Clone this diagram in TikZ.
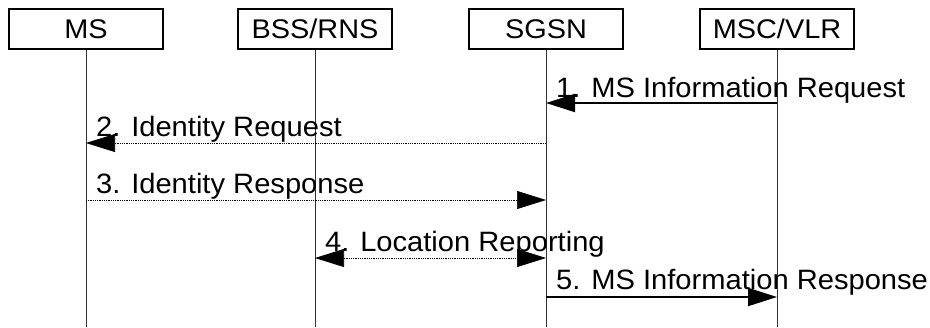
\documentclass[tikz,border=0pt]{standalone}
\usepackage{fontspec}
\usepackage{graphicx}
\setmainfont{Liberation Sans}
\usetikzlibrary{arrows.meta}
\tikzset{
  entity/.style={draw=black, line width=1.4pt, minimum width=154pt, minimum height=40pt, inner sep=0pt, font=\fontsize{27}{31}\selectfont},
  lifeline/.style={draw=black!80, line width=0.9pt},
  msgsolid/.style={draw=black, line width=2pt, -{Triangle[length=29pt,width=18pt]}},
  msgdot/.style={draw=black, line width=0.7pt, dash pattern=on 1pt off 0.8pt, -{Triangle[length=29pt,width=18pt]}},
  msglabel/.style={anchor=base west, inner sep=0pt, font=\fontsize{28}{32}\selectfont}
}
\newcommand{\wlab}[1]{\scalebox{1.04}[1]{#1}}
\newcommand{\wbox}[1]{\scalebox{1.07}[1]{#1}}
\begin{document}
\begin{tikzpicture}[x=1pt, y=-1pt]
\useasboundingbox (0,0) rectangle (930,327);
% entities
\node[entity] (ms) at (86,29) {\wbox{MS}};
\node[entity] (bss) at (315,29) {\wbox{BSS/RNS}};
\node[entity] (sgsn) at (546,29) {\wbox{SGSN}};
\node[entity] (msc) at (777,29) {\wbox{MSC/VLR}};
% lifeline ends
\coordinate (msend) at (ms.south |- 0,327);
\coordinate (bssend) at (bss.south |- 0,327);
\coordinate (sgsnend) at (sgsn.south |- 0,327);
\coordinate (mscend) at (msc.south |- 0,327);
\draw[lifeline] (ms.south) -- (msend);
\draw[lifeline] (bss.south) -- (bssend);
\draw[lifeline] (sgsn.south) -- (sgsnend);
\draw[lifeline] (msc.south) -- (mscend);
% message endpoints
\coordinate (m1a) at (msc.center |- 0,103);
\coordinate (m1b) at (sgsn.center |- 0,103);
\coordinate (m2a) at (sgsn.center |- 0,143);
\coordinate (m2b) at (ms.center |- 0,143);
\coordinate (m3a) at (ms.center |- 0,200);
\coordinate (m3b) at (sgsn.center |- 0,200);
\coordinate (m4a) at (bss.center |- 0,258);
\coordinate (m4b) at (sgsn.center |- 0,258);
\coordinate (m5a) at (sgsn.center |- 0,297);
\coordinate (m5b) at (msc.center |- 0,297);
% messages
\draw[msgsolid] (m1a) -- (m1b);
\draw[msgdot] (m2a) -- (m2b);
\draw[msgdot] (m3a) -- (m3b);
\draw[msgdot, {Triangle[length=29pt,width=18pt]}-{Triangle[length=29pt,width=18pt]}] (m4a) -- (m4b);
\draw[msgsolid] (m5a) -- (m5b);
% labels
\node[msglabel] (l1) at ([xshift=10pt, yshift=6pt]m1b) {\wlab{1. MS Information Request}};
\node[msglabel] (l2) at ([xshift=10pt, yshift=7pt]m2b) {\wlab{2. Identity Request}};
\node[msglabel] (l3) at ([xshift=10pt, yshift=7pt]m3a) {\wlab{3. Identity Response}};
\node[msglabel] (l4) at ([xshift=10pt, yshift=7pt]m4a) {\wlab{4. Location Reporting}};
\node[msglabel] (l5) at ([xshift=10pt, yshift=8pt]m5a) {\wlab{5. MS Information Response}};
\end{tikzpicture}
\end{document}
